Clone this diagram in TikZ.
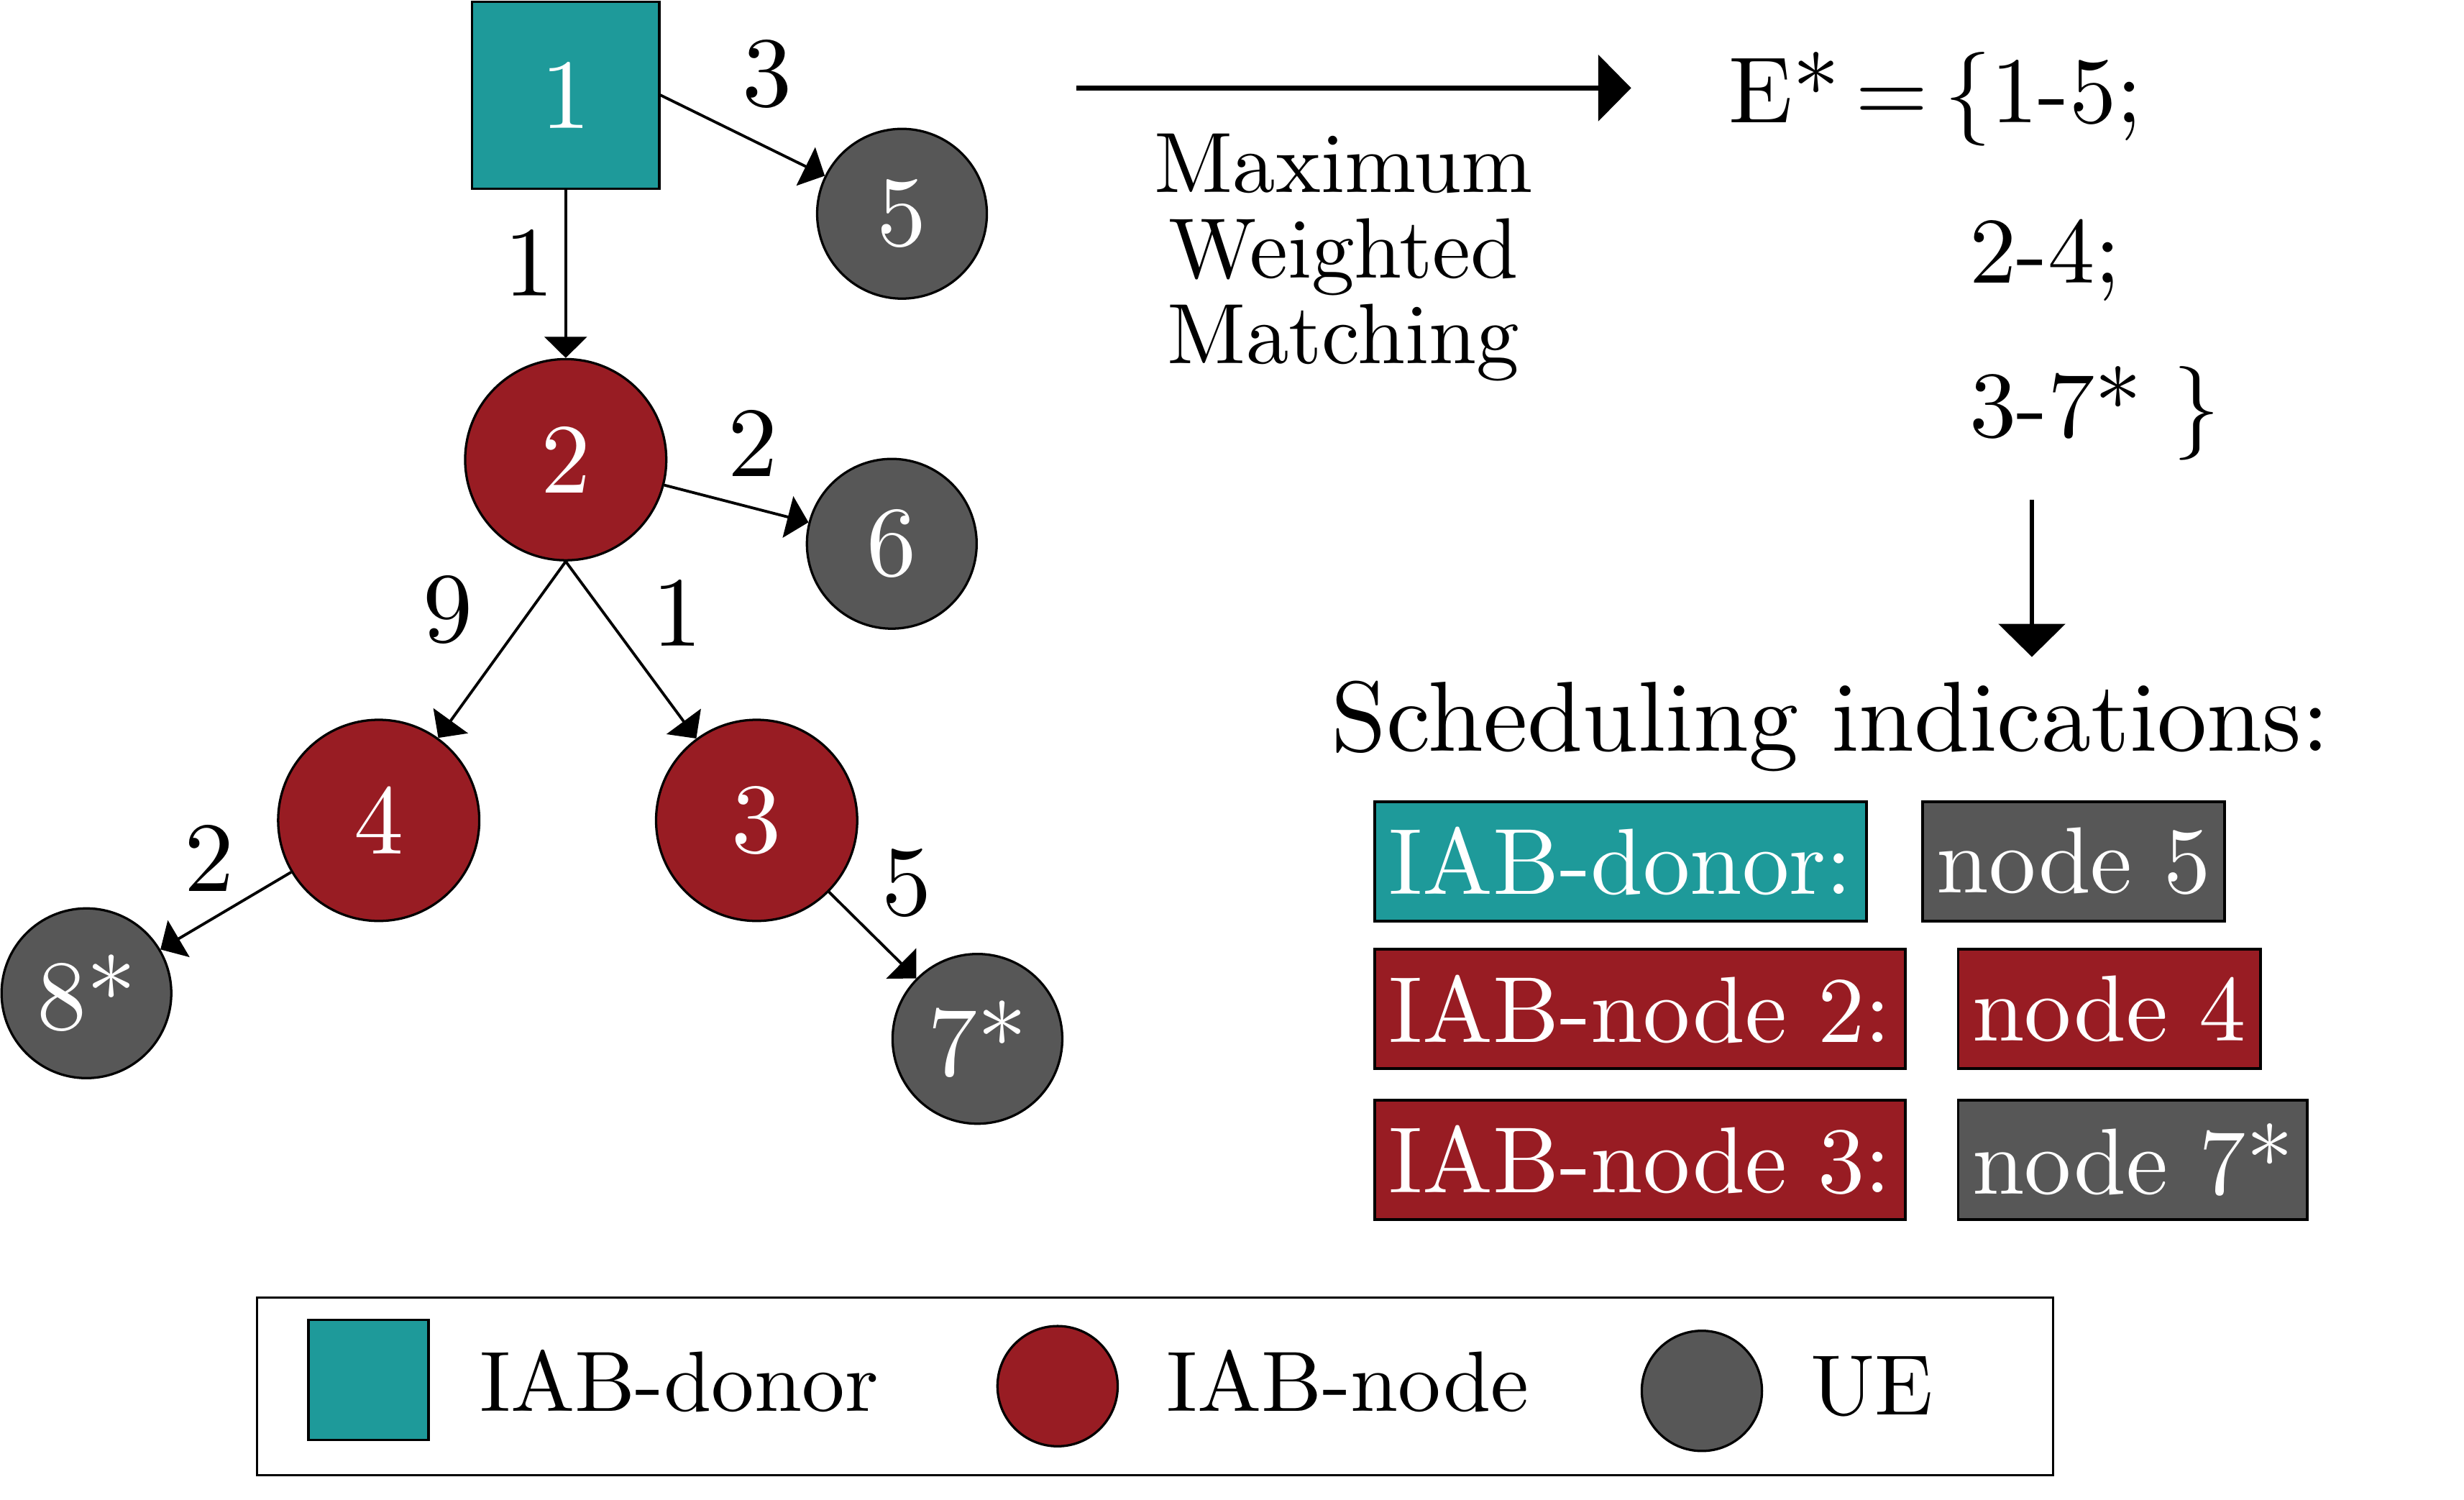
\documentclass[tikz,border=0pt]{standalone}
\usepackage{fontspec}
\setmainfont{lmroman10-regular}[Extension=.otf]
\usepackage{tikz}
\usetikzlibrary{positioning,arrows.meta}
\definecolor{donorteal}{RGB}{30,154,154}
\definecolor{iabred}{RGB}{152,28,35}
\definecolor{uegray}{RGB}{87,87,87}
\newcommand{\setfs}[1]{\fontsize{#1}{#1}\selectfont}

\begin{document}
\begin{tikzpicture}[
  x=0.2mm, y=-0.2mm,
  every node/.style={inner sep=0pt},
  donor/.style={draw,fill=donorteal,text=white,line width=0.85pt,minimum size=23.8mm,font=\setfs{36}},
  iab/.style={circle,draw,fill=iabred,text=white,line width=0.85pt,minimum size=25.6mm,font=\setfs{36}},
  ue/.style={circle,draw,fill=uegray,text=white,line width=0.85pt,minimum size=21.6mm,font=\setfs{36}},
  weight/.style={font=\setfs{36}},
  link/.style={-{Triangle[length=2.7mm,width=5.4mm]},line width=1pt},
  flow/.style={-{Triangle[length=4.2mm,width=8.4mm]},line width=1.7pt},
  tag/.style={draw,line width=1pt,text=white,minimum height=15.2mm,inner xsep=1.8mm,font=\setfs{34}},
  key/.style={draw,line width=0.85pt,minimum size=15.3mm},
  keytext/.style={anchor=base west,font=\setfs{31}}
]
\useasboundingbox (0,0) rectangle (1568,954);

% tree
\node[donor] (n1) at (360,60.5) {1};
\node[ue] (n5) at (574,136) {5};
\node[iab] (n2) at (360,292.5) {2};
\node[ue] (n6) at (567.5,346) {6};
\node[iab] (n4) at (241,522) {4};
\node[iab] (n3) at (481.5,522) {3};
\node[ue] (n8) at (55,632) {8*};
\node[ue] (n7) at (622,661) {7*};

\node[weight] (w12) at (337,167) {1};
\node[weight] (w15) at (488,47) {3};
\node[weight] (w26) at (479,282) {2};
\node[weight] (w24) at (285,388) {9};
\node[weight] (w23) at (431,390) {1};
\node[weight] (w48) at (133,546) {2};
\node[weight] (w37) at (577,562) {5};

\draw[link] (n1) -- (n2);
\draw[link] (n1.east) -- (n5);
\draw[link] (n2) -- (n6);
\draw[link] (n2.south) -- (n4);
\draw[link] (n2.south) -- (n3);
\draw[link] (n4) -- (n8);
\draw[link] (n3) -- (n7);

% matching
\coordinate (mwmstart) at (685,56);
\coordinate (mwmend) at (1038,56);
\draw[flow] (mwmstart) -- (mwmend);
\node[align=center,font=\setfs{31}] (mwm) at (855,164) {Maximum\\Weighted\\Matching};

\node[anchor=base west,font=\setfs{34}] (eqa) at (1100,78) {E*\,=\,\{1-5;};
\node[anchor=base west,font=\setfs{34}] (eqb) at (1253,180) {2-4;};
\node[anchor=base west,font=\setfs{34}] (eqc) at (1253,278) {3-7* \}};

\coordinate (schedstart) at (1293,318);
\coordinate (schedend) at (1293,418);
\draw[flow] (schedstart) -- (schedend);

% scheduling
\node[anchor=base west,font=\setfs{36}] (schedhead) at (847,478) {Scheduling indications:};
\node[tag,fill=donorteal,anchor=west] (tagdonor) at (874,548) {IAB-donor:};
\node[tag,fill=uegray,right=6.8mm of tagdonor] (tagfive) {node 5};
\node[tag,fill=iabred,anchor=west] (tagtwo) at (874,642) {IAB-node 2:};
\node[tag,fill=iabred,right=6.4mm of tagtwo] (tagfour) {node 4};
\node[tag,fill=iabred,anchor=west] (tagthree) at (874,738) {IAB-node 3:};
\node[tag,fill=uegray,right=6.4mm of tagthree] (tagseven) {node 7*};

% legend
\node[draw,line width=0.85pt,minimum width=228.6mm,minimum height=22.6mm] (legend) at (735,882) {};
\node[key,fill=donorteal] (keydonor) at (234.5,878) {};
\node[key,circle,fill=iabred] (keyiab) at (673,882) {};
\node[key,circle,fill=uegray] (keyue) at (1083,885) {};
\node[keytext] (txtdonor) at (305,898) {IAB-donor};
\node[keytext] (txtiab) at (742,898) {IAB-node};
\node[keytext] (txtue) at (1152,900) {UE};
\end{tikzpicture}
\end{document}
